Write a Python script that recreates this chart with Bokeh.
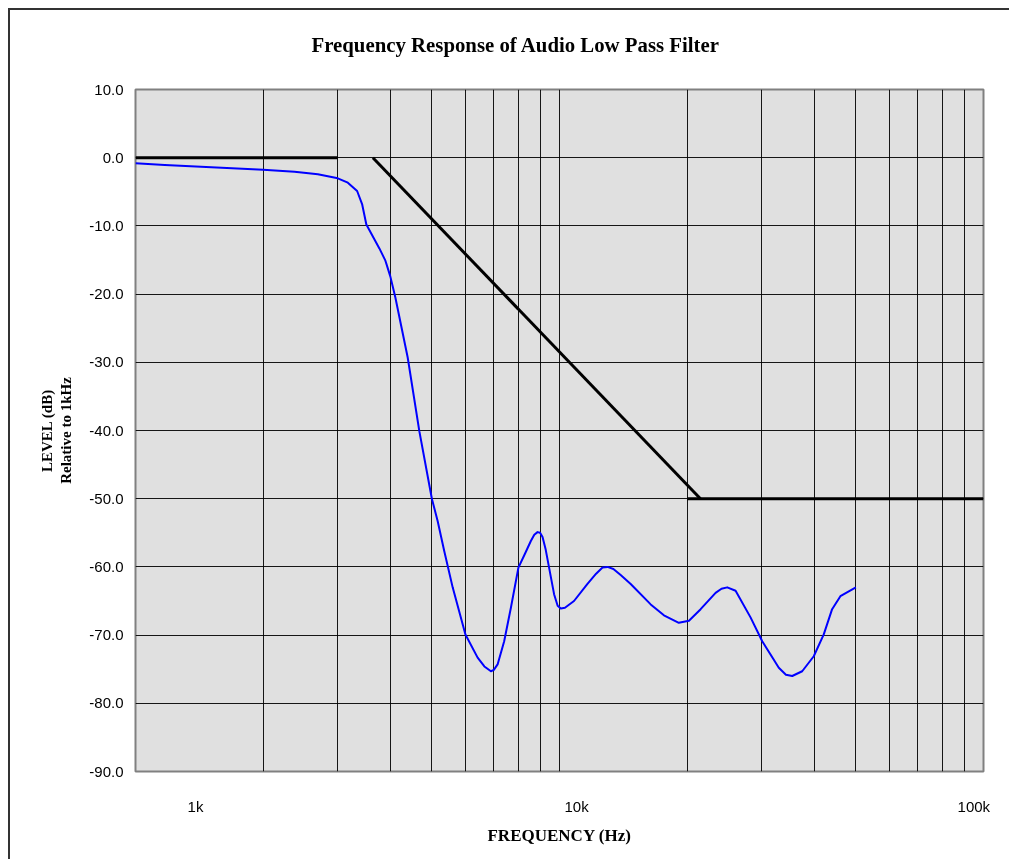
from bokeh.plotting import figure
from bokeh.models import FixedTicker, PrintfTickFormatter, Range1d
from bokeh.embed import file_html
from bokeh.resources import INLINE

# ---- data ----
resp_freq = [1000, 1172, 2000, 2372, 2692, 3000, 3168, 3332, 3423, 3503, 3760, 3885, 3990,
             4101, 4385, 4671, 5000, 5161, 5349, 5598, 6000, 6411, 6650, 6891, 7000, 7145, 7405,
             7680, 8000, 8300, 8559, 8720, 8876, 9000, 9120, 9280, 9450, 9710, 9900, 10070,
             10300, 10820, 11640, 12200, 12630, 12980, 13400, 13940,
             14720, 16410, 17630, 19120, 20200, 21520, 23340, 24100, 24870, 26020, 28220, 30070,
             32900, 34200, 35390, 37360, 39780, 42000, 43950, 45970, 50000]
resp_db = [-0.8, -1.07, -1.76, -2.05, -2.43, -3.02, -3.66, -4.88, -6.8, -9.8, -13.3, -15.1, -17.4,
           -20.5, -29.3, -40.1, -50.0, -53.3, -57.7, -63.0, -69.9, -73.3, -74.6, -75.3, -75.1, -74.3,
           -70.9, -66.0, -60.1, -58.0, -56.2, -55.3, -54.9, -55.0, -55.6, -57.5, -60.1, -64.0, -65.7,
           -66.1, -66.0, -65.0, -62.5, -61.0, -60.1, -60.0, -60.3, -61.2,
           -62.5, -65.5, -67.1, -68.2, -67.9, -66.2, -63.8, -63.2, -63.0, -63.5, -67.4, -70.9,
           -74.8, -75.8, -76.0, -75.3, -73.1, -69.9, -66.2, -64.3, -63.0]

mask_freq = [[1000, 3000], [3630, 21500], [20000, 100000]]
mask_db = [[0, 0], [0, -50], [-50, -50]]

x_tick_pos = [1385, 10970, 94900]
x_tick_labels = ["1k", "10k", "100k"]
y_ticks = [10, 0, -10, -20, -30, -40, -50, -60, -70, -80, -90]
x_grid = [m * 10 ** e for e in (3, 4) for m in range(1, 10)] + [100000]

title_text = "Frequency Response of Audio Low Pass Filter"

p = figure(width=1001, height=851, x_axis_type="log",
           x_range=Range1d(1000, 100000), y_range=Range1d(-90, 10),
           output_backend="svg", toolbar_location=None,
           min_border_left=127, min_border_right=26, min_border_top=81, min_border_bottom=88,
           background_fill_color="#e0e0e0", border_fill_color=None)
p.styles = {"position": "fixed", "left": "8px", "top": "8px",
            "box-shadow": "inset 2px 2px 0 0 #333333"}

p.outline_line_color = "#808080"
p.outline_line_width = 2

# title (trailing empty line lifts the text away from the frame)
p.title.text = title_text + "\n"
p.title.text_font = "Liberation Serif"
p.title.text_font_style = "bold"
p.title.text_font_size = "20.8px"
p.title.text_color = "black"
p.title.align = "left"
p.title.offset = 176
p.title.standoff = 22

# grids
p.xgrid.ticker = FixedTicker(ticks=x_grid)
p.ygrid.ticker = FixedTicker(ticks=y_ticks)
for g in (p.xgrid, p.ygrid):
    g.grid_line_color = "black"
    g.grid_line_width = 1
    g.grid_line_alpha = 0.9

# axes
xa = p.xaxis[0]
xa.ticker = FixedTicker(ticks=x_tick_pos)
xa.major_label_overrides = {t: l for t, l in zip(x_tick_pos, x_tick_labels)}
xa.axis_label = "FREQUENCY (Hz)"
ya = p.yaxis[0]
ya.ticker = FixedTicker(ticks=y_ticks)
ya.formatter = PrintfTickFormatter(format="%.1f")
ya.axis_label = "LEVEL (dB)\nRelative to 1kHz"

for ax in (xa, ya):
    ax.axis_line_color = None
    ax.major_tick_line_color = None
    ax.minor_tick_line_color = None
    ax.major_tick_out = 0
    ax.major_tick_in = 0
    ax.major_label_text_font = "Liberation Sans"
    ax.major_label_text_font_size = "15px"
    ax.major_label_text_color = "black"
    ax.axis_label_text_font = "Liberation Serif"
    ax.axis_label_text_font_style = "bold"
    ax.axis_label_text_color = "black"

xa.major_label_standoff = 26
xa.axis_label_text_font_size = "17px"
xa.axis_label_standoff = 8
ya.major_label_standoff = 12
ya.axis_label_text_font_size = "15px"
ya.axis_label_standoff = 12

# mask lines
for fx, dy in zip(mask_freq, mask_db):
    p.line(fx, dy, line_color="black", line_width=3)

# response
p.line(resp_freq, resp_db, line_color="#0000ff", line_width=2, line_join="round")

open("out.html", "w").write(file_html(p, INLINE))
